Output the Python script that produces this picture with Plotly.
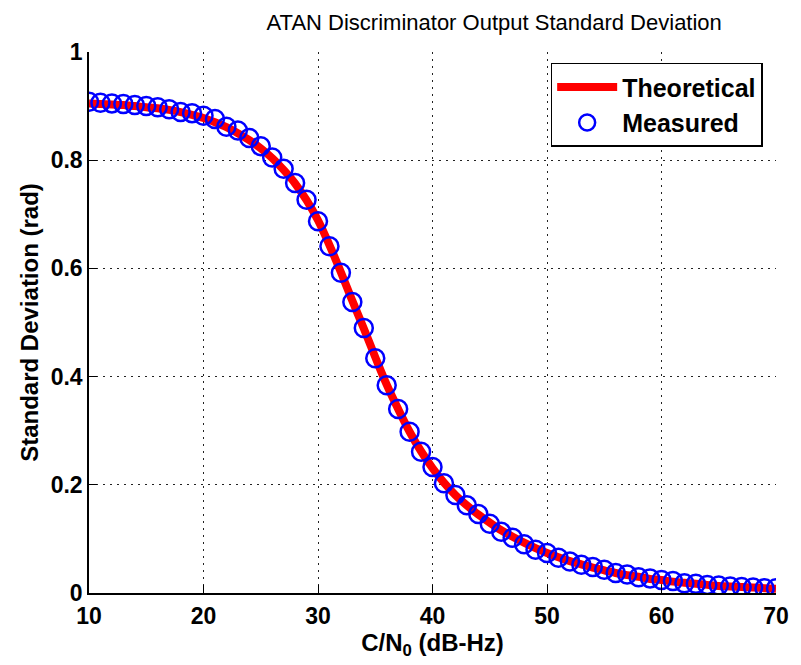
import plotly.graph_objects as go

cn0 = list(range(10, 71))

theoretical = [0.905, 0.904, 0.903, 0.902, 0.900, 0.898, 0.896, 0.893, 0.889, 0.884,
               0.878, 0.870, 0.861, 0.850, 0.837, 0.822, 0.804, 0.782, 0.757, 0.726,
               0.689, 0.643, 0.593, 0.540, 0.489, 0.436, 0.385, 0.340, 0.298, 0.262,
               0.231, 0.204, 0.181, 0.162, 0.145, 0.130, 0.116, 0.104, 0.093, 0.083,
               0.074, 0.066, 0.059, 0.053, 0.047, 0.042, 0.037, 0.033, 0.030, 0.026,
               0.024, 0.021, 0.019, 0.017, 0.015, 0.013, 0.012, 0.011, 0.010, 0.009,
               0.008]

measured = [0.908, 0.906, 0.905, 0.904, 0.902, 0.900, 0.898, 0.894, 0.889, 0.887,
            0.882, 0.876, 0.862, 0.855, 0.841, 0.826, 0.805, 0.784, 0.758, 0.727,
            0.687, 0.641, 0.592, 0.538, 0.490, 0.434, 0.384, 0.340, 0.298, 0.261,
            0.233, 0.203, 0.181, 0.162, 0.146, 0.128, 0.113, 0.102, 0.090, 0.080,
            0.074, 0.065, 0.058, 0.052, 0.048, 0.043, 0.037, 0.034, 0.029, 0.027,
            0.024, 0.022, 0.018, 0.017, 0.015, 0.014, 0.012, 0.011, 0.010, 0.009,
            0.009]

x_ticks = [10, 20, 30, 40, 50, 60, 70]
y_ticks = [0, 0.2, 0.4, 0.6, 0.8, 1]
y_tick_text = ["0", "0.2", "0.4", "0.6", "0.8", "1"]

FONT = "Liberation Sans, Arial, sans-serif"

fig = go.Figure()
fig.add_trace(go.Scatter(
    x=cn0, y=theoretical, mode="lines", name="Theoretical",
    line=dict(color="#ff0000", width=8, shape="spline"),
))
fig.add_trace(go.Scatter(
    x=cn0, y=measured, mode="markers", name="Measured",
    marker=dict(symbol="circle-open", size=18, color="#0000ff",
                line=dict(width=2.5, color="#0000ff")),
))

axis_common = dict(
    showline=True, linecolor="black", linewidth=1.5,
    ticks="inside", ticklen=8, tickwidth=1, tickcolor="black",
    showgrid=True, gridcolor="#222222", gridwidth=1.2, griddash="1.5px,5.5px",
    zeroline=False, mirror=False,
    tickfont=dict(family=FONT, size=23, color="black", weight="bold"),
)

fig.update_xaxes(range=[10, 70], tickvals=x_ticks, ticklabelstandoff=2,
                 title=dict(text="C/N<sub>0</sub> (dB-Hz)",
                            font=dict(family=FONT, size=24, color="black", weight="bold"),
                            standoff=3),
                 **axis_common)
fig.update_yaxes(range=[0, 1], tickvals=y_ticks, ticktext=y_tick_text,
                 title=dict(text="Standard Deviation (rad)",
                            font=dict(family=FONT, size=24, color="black", weight="bold"),
                            standoff=5),
                 **axis_common)

fig.update_layout(
    width=801, height=665,
    margin=dict(l=89, r=15, t=52, b=72),
    paper_bgcolor="white", plot_bgcolor="white",
    title=dict(text="ATAN Discriminator Output Standard Deviation",
               x=0.617, xanchor="center", y=0.967, yanchor="middle",
               font=dict(family=FONT, size=22, color="black")),
    legend=dict(x=0.672, y=0.98, xanchor="left", yanchor="top",
                bordercolor="black", borderwidth=1.5, bgcolor="white",
                font=dict(family=FONT, size=25, color="black", weight="bold"),
                itemwidth=60, tracegroupgap=0),
    showlegend=True,
)

fig.write_html("out.html")
